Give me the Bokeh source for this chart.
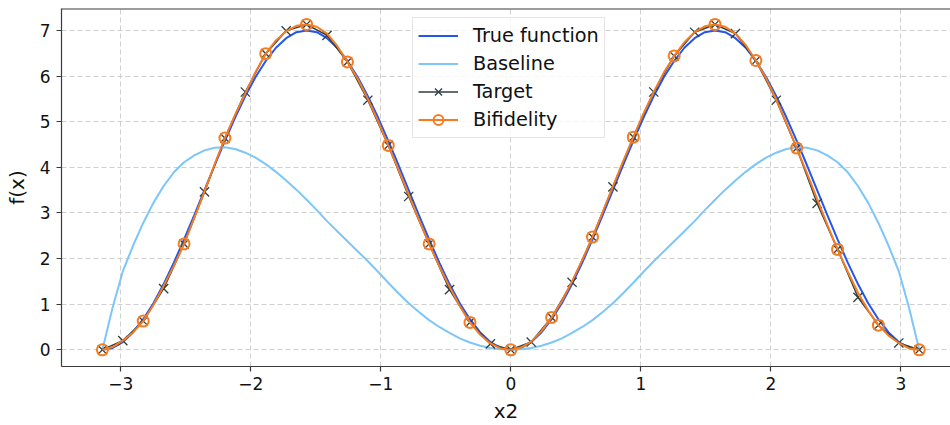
import numpy as np
from bokeh.plotting import figure
from bokeh.models import Span, CustomJSTickFormatter
from bokeh.embed import file_html
from bokeh.resources import INLINE

# Fine sample grid of x2 over [-pi, pi] (81 points, step pi/40) for the curves,
# coarse grid (41 points, step pi/20) for the target evaluations.
x_fine = np.linspace(-np.pi, np.pi, 81)
x_target = np.linspace(-np.pi, np.pi, 41)

true_f = [0.00, 0.04, 0.17, 0.38, 0.67, 1.02, 1.44, 1.91, 2.42, 2.95,
          3.50, 4.05, 4.58, 5.09, 5.56, 5.98, 6.33, 6.62, 6.83, 6.96,
          7.00, 6.96, 6.83, 6.62, 6.33, 5.98, 5.56, 5.09, 4.58, 4.05,
          3.50, 2.95, 2.42, 1.91, 1.44, 1.02, 0.67, 0.38, 0.17, 0.04,
          0.00, 0.04, 0.17, 0.38, 0.67, 1.02, 1.44, 1.91, 2.42, 2.95,
          3.50, 4.05, 4.58, 5.09, 5.56, 5.98, 6.33, 6.62, 6.83, 6.96,
          7.00, 6.96, 6.83, 6.62, 6.33, 5.98, 5.56, 5.09, 4.58, 4.05,
          3.50, 2.95, 2.42, 1.91, 1.44, 1.02, 0.67, 0.38, 0.17, 0.04, 0.00]

baseline = [0.00, 0.92, 1.72, 2.28, 2.78, 3.22, 3.59, 3.89, 4.11, 4.26,
            4.37, 4.43, 4.44, 4.40, 4.32, 4.21, 4.07, 3.90, 3.71, 3.51,
            3.29, 3.06, 2.82, 2.60, 2.38, 2.16, 1.94, 1.71, 1.47, 1.24,
            1.02, 0.83, 0.65, 0.50, 0.37, 0.25, 0.16, 0.09, 0.04, 0.01,
            0.00, 0.01, 0.04, 0.09, 0.16, 0.25, 0.37, 0.50, 0.65, 0.83,
            1.02, 1.24, 1.47, 1.71, 1.94, 2.16, 2.38, 2.60, 2.82, 3.06,
            3.29, 3.51, 3.71, 3.90, 4.07, 4.21, 4.32, 4.40, 4.44, 4.43,
            4.37, 4.26, 4.11, 3.89, 3.59, 3.22, 2.78, 2.28, 1.72, 0.92, 0.00]

bifidelity = [0.00, 0.06, 0.20, 0.38, 0.63, 0.98, 1.40, 1.84, 2.32, 2.89,
              3.47, 4.07, 4.64, 5.15, 5.62, 6.09, 6.49, 6.78, 6.98, 7.10,
              7.13, 7.08, 6.93, 6.66, 6.31, 5.94, 5.50, 5.01, 4.48, 3.95,
              3.40, 2.85, 2.32, 1.83, 1.38, 0.96, 0.60, 0.33, 0.14, 0.03,
              0.00, 0.05, 0.18, 0.41, 0.71, 1.07, 1.50, 1.97, 2.47, 3.02,
              3.58, 4.13, 4.66, 5.18, 5.65, 6.08, 6.44, 6.74, 6.96, 7.09,
              7.13, 7.08, 6.93, 6.68, 6.34, 5.95, 5.48, 4.97, 4.42, 3.87,
              3.30, 2.74, 2.20, 1.71, 1.25, 0.86, 0.54, 0.31, 0.15, 0.03, 0.00]

target = [0.00, 0.20, 0.63, 1.34, 2.32, 3.46, 4.64, 5.65, 6.49, 6.99,
          7.13, 6.89, 6.31, 5.47, 4.48, 3.36, 2.32, 1.32, 0.60, 0.13,
          0.00, 0.17, 0.71, 1.48, 2.47, 3.57, 4.66, 5.65, 6.44, 6.96,
          7.13, 6.93, 6.34, 5.47, 4.42, 3.21, 2.20, 1.15, 0.54, 0.15, 0.00]

x_ticks = [-3, -2, -1, 0, 1, 2, 3]
y_ticks = [0, 1, 2, 3, 4, 5, 6, 7]

BLUE = "#2356f0"
LIGHT = "#7cc6fa"
DARK = "#2f3e3e"
ORANGE = "#f47d23"
FONT = "DejaVu Sans"
SPINE = "#3a3a3a"

Y0, Y1 = -0.366, 7.48
p = figure(width=950, height=425, x_range=(-3.456, 3.382), y_range=(Y0, Y1),
           output_backend="svg", toolbar_location=None,
           min_border_left=61, min_border_right=0, min_border_top=8, min_border_bottom=59)
p.outline_line_color = None
p.background_fill_color = "white"

# top spine
p.add_layout(Span(location=Y1, dimension="width", line_color=SPINE, line_width=2))

minus_fmt = CustomJSTickFormatter(code="return tick < 0 ? '\\u2212' + (-tick) : '' + tick;")

for ax, ticks in ((p.xaxis, x_ticks), (p.yaxis, y_ticks)):
    ax.ticker = ticks
    ax.formatter = minus_fmt
    ax.axis_line_color = SPINE
    ax.axis_line_width = 1.2
    ax.major_tick_line_color = SPINE
    ax.major_tick_line_width = 1.2
    ax.major_tick_out = 5
    ax.major_tick_in = 0
    ax.minor_tick_line_color = None
    ax.major_label_text_font = FONT
    ax.major_label_text_font_size = "17px"
    ax.major_label_text_color = "#111111"
    ax.axis_label_text_font = FONT
    ax.axis_label_text_font_size = "20px"
    ax.axis_label_text_font_style = "normal"
    ax.axis_label_text_color = "#111111"

p.xaxis.axis_label = "x2"
p.yaxis.axis_label = "f(x)"
p.xaxis.major_label_standoff = 5
p.yaxis.major_label_standoff = 6
p.xaxis.axis_label_standoff = 6
p.yaxis.axis_label_standoff = 8

for g in (p.xgrid, p.ygrid):
    g.grid_line_color = "#cfcfcf"
    g.grid_line_dash = "5 3"
    g.grid_line_width = 1
p.xgrid.ticker = x_ticks
p.ygrid.ticker = y_ticks

p.line(x_fine, true_f, line_color=BLUE, line_width=2, legend_label="True function")
p.line(x_fine, baseline, line_color=LIGHT, line_width=2, legend_label="Baseline")
p.line(x_target, target, line_color=DARK, line_width=1.5, legend_label="Target")
p.scatter(x_target, target, marker="x", size=13, line_color=DARK, line_width=1.3,
          legend_label="Target")
p.line(x_fine, bifidelity, line_color=ORANGE, line_width=2, legend_label="Bifidelity")
p.scatter(x_fine[::4], bifidelity[::4], marker="circle", size=11, fill_color=None,
          line_color=ORANGE, line_width=2, legend_label="Bifidelity")

lg = p.legend[0]
lg.location = (351, 228)
lg.margin = 0
lg.padding = 5
lg.spacing = 3
lg.glyph_width = 40
lg.glyph_height = 25
lg.label_height = 25
lg.label_standoff = 15
lg.label_text_font = FONT
lg.label_text_font_size = "19.3px"
lg.label_text_color = "#111111"
lg.border_line_color = "#cccccc"
lg.border_line_width = 1
lg.background_fill_alpha = 0.8

open("out.html", "w").write(file_html(p, INLINE))
